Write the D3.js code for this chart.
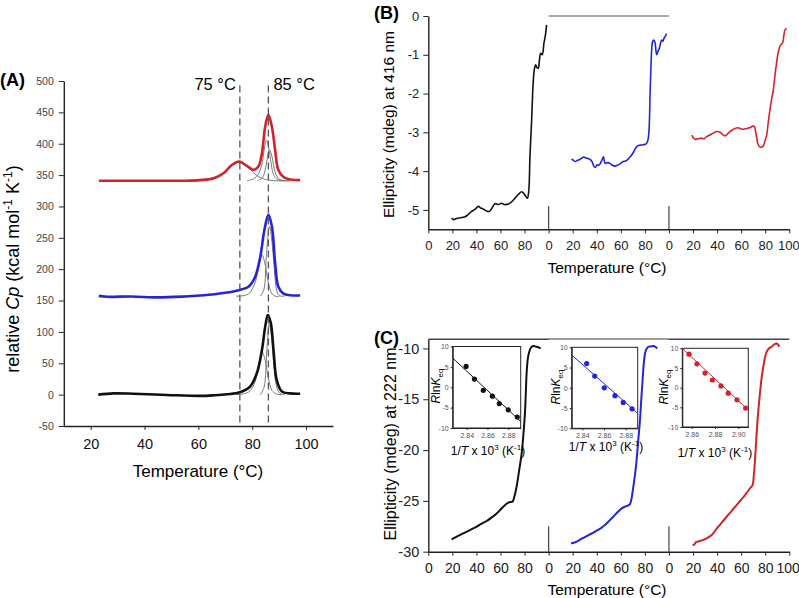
<!DOCTYPE html>
<html><head><meta charset="utf-8">
<script src="https://cdn.jsdelivr.net/npm/d3@7"></script>
<style>
html,body{margin:0;padding:0;background:#fff;}
svg{display:block;font-family:"Liberation Sans",Arial,sans-serif;}
</style></head>
<body>
<svg id="fig" width="799" height="598"></svg>
<script>
// ---------- DATA ----------
// Panel A: DSC traces (Temperature °C, relative Cp)
const dscXTicks = [20, 40, 60, 80, 100];
const dscYTicks = [-50, 0, 50, 100, 150, 200, 250, 300, 350, 400, 450, 500];
const dscMarkers = [75.4, 86.0];
const dscMarkerLabels = ["75 °C", "85 °C"];
const dscRed = [[23,341],[40,341],[55,341],[60.6,342],[65.6,345],[69.3,353],[72.4,366],[75.2,371.6],[78,364.7],[80.4,358.4],[82.3,363.7],[83.6,385],[84.8,427],[86,446],[87.3,427],[88.5,390],[89.7,358],[91.6,347],[94.1,343],[97.8,342]];
const dscRedC1 = [[55,341],[62,341.5],[66,344],[69.3,352],[72.4,365],[75.2,370.5],[78,364],[80.4,354],[82.5,347],[85,343],[88,341],[92,341]];
const dscRedC2 = [[78,341],[80.5,344],[82.3,352],[83.6,368],[84.6,395],[85.2,406],[85.9,398],[86.8,375],[87.8,352],[89,344],[91,341],[94,341]];
const dscRedC3 = [[82,341],[83.8,346],[85,362],[85.8,382],[86.4,390],[87.2,382],[88.2,360],[89.3,347],[91,342],[94,341]];
const dscBlue = [[23,157.4],[26,156],[35,156.5],[45,155],[55,156.5],[60.6,158],[66,160],[70.6,162.7],[75.4,167],[78.6,172],[81.1,188],[83,220],[84.5,262],[86,286.6],[87.3,268],[88.5,210],[89.7,172],[91.6,161],[94,158.5],[97.8,158]];
const dscBlueC1 = [[74,157],[77,158],[79,162],[81,178],[82.5,205],[83.6,223],[84.8,207],[86,178],[87.3,161],[88.5,157],[90,156.5]];
const dscBlueC2 = [[83,157],[84.3,167],[85.3,225],[86.4,268],[87.3,245],[88.2,200],[89,168],[90,158],[92,157]];
const dscBlack = [[22.8,0],[28.4,2],[35.8,1.5],[48.3,-0.5],[60.6,-2],[66,-1],[70.6,0.6],[75.4,3.8],[79.2,12.8],[81.7,34],[83.6,71],[84.8,108],[85.8,127],[86.9,114],[87.9,71],[89.1,23],[91,5],[94,2],[97.8,1.5]];
const dscBlackC1 = [[74,0],[77,1.5],[79.2,6],[81,20],[82.5,48],[83.6,68.6],[84.8,55],[86,26],[87.3,7],[89,1],[91,0]];
const dscBlackC2 = [[83,0],[84.4,12],[85.4,70],[86.3,112],[87.2,92],[88,48],[89,14],[90.2,2],[92,0]];

// Panels B and C: three side-by-side segments, each 0-100 °C
const segXTicks = [0,20,40,60,80,100,120,140,160,180,200,220,240,260,280,300];
const segOffsets = [0, 100, 200];
const cd416Ticks = [0, -1, -2, -3, -4, -5];
const cd222Ticks = [-10, -15, -20, -25, -30];
const cd416Black = [[19.4,-5.21],[21,-5.25],[23.5,-5.22],[27,-5.2],[30,-5.18],[32,-5.15],[36,-5.04],[39,-4.98],[41.6,-4.91],[43.5,-4.95],[45.7,-4.98],[48,-5.02],[50.7,-5.04],[53,-4.95],[55.4,-4.84],[58,-4.86],[61,-4.83],[63,-4.86],[66.5,-4.85],[69,-4.8],[71.2,-4.73],[74,-4.63],[77.6,-4.53],[80,-4.6],[82.3,-4.70],[83.5,-4.5],[84.5,-3.6],[85.9,-2.68],[86.7,-2.0],[87.3,-1.65],[88,-1.4],[89.2,-1.26],[90.3,-1.33],[91.4,-1.35],[92.3,-1.15],[93.4,-0.96],[94.7,-1.0],[96.1,-0.7],[97.3,-0.5],[98.3,-0.23]];
const cd416Blue = [[19,-3.69],[20.5,-3.72],[22,-3.75],[24,-3.72],[26,-3.7],[29,-3.64],[31,-3.66],[34,-3.69],[36,-3.75],[37.7,-3.88],[39,-3.9],[40,-3.84],[41.5,-3.85],[43,-3.80],[44.5,-3.7],[45.5,-3.63],[47,-3.80],[49,-3.78],[51,-3.80],[53,-3.85],[55,-3.87],[57,-3.85],[59,-3.82],[62,-3.75],[64,-3.74],[66,-3.69],[68,-3.62],[70,-3.54],[72,-3.42],[74,-3.35],[76,-3.33],[78.7,-3.32],[81,-3.3],[82.5,-3.2],[83.5,-2.9],[84.3,-2.0],[85,-1.31],[85.7,-0.85],[86.4,-0.66],[87.4,-0.62],[88.4,-0.68],[89.2,-0.9],[89.8,-1.0],[90.8,-0.92],[92,-0.83],[93,-0.7],[94,-0.62],[95,-0.65],[95.8,-0.58],[97,-0.52],[98,-0.45]];
const cd416Red = [[19,-3.07],[20.5,-3.15],[21.6,-3.18],[24,-3.17],[27,-3.15],[29,-3.17],[31.3,-3.11],[34,-3.07],[37,-3.02],[39.6,-2.98],[42.4,-3.0],[44.5,-3.05],[46.5,-3.09],[48,-3.06],[50,-3.0],[52.5,-2.94],[54.8,-2.9],[57,-2.88],[59,-2.9],[62,-2.92],[64.5,-2.9],[67,-2.88],[70,-2.84],[71.2,-2.86],[72,-2.98],[73,-3.15],[73.7,-3.28],[75.6,-3.38],[77,-3.38],[78.4,-3.35],[80,-3.2],[81.2,-3.07],[82.5,-2.75],[83.9,-2.42],[85.3,-2.15],[86.7,-1.91],[88,-1.55],[89,-1.31],[90,-1.08],[90.9,-0.92],[92,-0.8],[92.8,-0.75],[94.5,-0.69],[95.5,-0.5],[96.4,-0.36],[97.8,-0.32]];
const cd222Black = [[19.4,-28.79],[24,-28.5],[29,-28.2],[35,-27.85],[40.2,-27.54],[44,-27.27],[48.5,-26.98],[52.5,-26.65],[56.8,-26.23],[60,-25.85],[62.3,-25.57],[66.5,-25.18],[68.5,-25.1],[70,-25.08],[71.5,-24.6],[73.4,-23.6],[75.5,-22.0],[77.6,-20.33],[79,-18.5],[80.3,-16.39],[81,-14.5],[81.7,-12.46],[82.7,-11.0],[83.9,-10.33],[85.5,-9.9],[87.3,-9.77],[90,-9.84],[93.4,-10]];
const cd222Blue = [[18.6,-29.18],[20,-29.15],[23.3,-29.0],[27,-28.75],[31.6,-28.46],[36,-28.2],[39.9,-27.93],[43.5,-27.68],[46.8,-27.38],[50,-27.0],[53.7,-26.56],[57,-26.15],[60.7,-25.74],[62.8,-25.6],[64.8,-25.51],[67.6,-25.31],[69,-24.7],[70.4,-23.6],[71.8,-22.4],[73.1,-20.98],[74.5,-19.0],[75.9,-17.05],[77,-15.0],[78.1,-13.11],[79,-11.6],[80.1,-10.49],[81.3,-10.05],[82.8,-9.84],[85,-9.8],[87,-9.77],[88.8,-9.85],[90.3,-10]];
const cd222Red = [[19.7,-29.34],[21,-29.3],[22.5,-29.05],[24.4,-29.0],[27,-28.9],[31.3,-28.69],[35.5,-28.36],[38,-28.0],[41,-27.54],[44.5,-27.05],[47.9,-26.56],[52,-26.0],[56.2,-25.41],[59.5,-24.95],[63.2,-24.43],[65,-24.15],[67.3,-23.77],[69.5,-23.44],[70.5,-22.5],[71.5,-20.98],[72.5,-19.0],[73.4,-17.38],[74.5,-15.8],[75.6,-14.43],[77,-12.9],[78.4,-11.8],[79.8,-10.9],[81.2,-10.33],[83,-10.0],[85.3,-9.84],[87.5,-9.6],[89.5,-9.51],[90.5,-9.6],[91.7,-9.84]];

// Insets: van't Hoff plots (1/T x 10^3, R ln Keq)
const inset1X = [2.8394, 2.8474, 2.856, 2.8647, 2.8714, 2.88, 2.8887];
const inset1Y = [5.1, 2.0, -0.75, -2.2, -4.0, -5.55, -7.3];
const inset1Fit = [[2.8265, 7.15], [2.892, -8.4]];
const inset1Ticks = [2.84, 2.86, 2.88];
const inset2X = [2.844, 2.8514, 2.8602, 2.8701, 2.8777, 2.8858];
const inset2Y = [6.0, 2.9, 0.0, -1.95, -3.6, -5.2];
const inset2Fit = [[2.8302, 8.1], [2.891, -6.3]];
const inset2Ticks = [2.84, 2.86, 2.88];
const inset3X = [2.8577, 2.8645, 2.8714, 2.8777, 2.8851, 2.8914, 2.8989, 2.9063];
const inset3Y = [8.5, 6.05, 3.7, 1.95, 0.45, -1.4, -3.1, -5.2];
const inset3Fit = [[2.8519, 10], [2.9086, -5.7]];
const inset3Ticks = [2.86, 2.88, 2.90];
const insetYTicks = [10, 5, 0, -5, -10];

// ---------- DRAW ----------
const RED = "#d2222a", BLUE = "#2424dc", BLACK = "#111", GRAY = "#7a7a7a";
const svg = d3.select("#fig");
const plain = d => String(d);

function styleAxis(g, size, color) {
  g.selectAll("path.domain").attr("stroke", "#222").attr("stroke-width", 1.4);
  g.selectAll(".tick line").attr("stroke", "#222").attr("stroke-width", 1);
  g.selectAll(".tick text").attr("font-size", size).attr("fill", color)
    .attr("font-family", "'Liberation Sans', Arial, sans-serif");
}

// ----- Panel A -----
const ax = d3.scaleLinear().domain([10, 110]).range([63.8, 333]);
const ay = d3.scaleLinear().domain([-50, 500]).range([426, 81]);
const gA = svg.append("g");
gA.append("g").attr("transform", `translate(0,${ay(-50)})`)
  .call(d3.axisBottom(ax).tickValues(dscXTicks).tickFormat(plain).tickSize(4).tickPadding(9).tickSizeOuter(0))
  .call(g => styleAxis(g, 14.5, "#111"));
gA.append("g").attr("transform", `translate(${ax(10)},0)`)
  .call(d3.axisLeft(ay).tickValues(dscYTicks).tickFormat(plain).tickSize(5).tickPadding(5).tickSizeOuter(0))
  .call(g => styleAxis(g, 10.5, "#444"));

const lineA = d3.line().x(d => ax(d[0])).y(d => ay(d[1])).curve(d3.curveCatmullRom.alpha(0.5));
[dscRedC1, dscRedC2, dscRedC3, dscBlueC1, dscBlueC2, dscBlackC1, dscBlackC2].forEach(c =>
  gA.append("path").datum(c).attr("d", lineA).attr("fill", "none").attr("stroke", GRAY).attr("stroke-width", 1));
[[dscRed, RED], [dscBlue, BLUE], [dscBlack, BLACK]].forEach(([c, col]) =>
  gA.append("path").datum(c).attr("d", lineA).attr("fill", "none").attr("stroke", col).attr("stroke-width", 2.6));
dscMarkers.forEach(m => gA.append("line").attr("x1", ax(m)).attr("x2", ax(m))
  .attr("y1", ay(493)).attr("y2", ay(-50)).attr("stroke", "#555").attr("stroke-width", 1.3).attr("stroke-dasharray", "7,4"));
gA.append("text").attr("x", ax(dscMarkers[0]) - 4).attr("y", 90).attr("text-anchor", "end")
  .attr("font-size", 16.5).text(dscMarkerLabels[0]);
gA.append("text").attr("x", ax(dscMarkers[1]) + 5).attr("y", 90).attr("text-anchor", "start")
  .attr("font-size", 16.5).text(dscMarkerLabels[1]);
gA.append("text").attr("x", 198).attr("y", 477).attr("text-anchor", "middle").attr("font-size", 17).text("Temperature (°C)");
const yA = gA.append("text").attr("transform", "translate(19,269) rotate(-90)").attr("text-anchor", "middle").attr("font-size", 18);
yA.append("tspan").text("relative ");
yA.append("tspan").attr("font-style", "italic").text("Cp");
yA.append("tspan").text(" (kcal mol");
yA.append("tspan").attr("font-size", 12).attr("dy", -7).text("-1");
yA.append("tspan").attr("dy", 7).text(" K");
yA.append("tspan").attr("font-size", 12).attr("dy", -7).text("-1");
yA.append("tspan").attr("dy", 7).text(")");
gA.append("text").attr("x", 0).attr("y", 86).attr("font-size", 18).attr("font-weight", "bold").text("(A)");

// ----- Panels B & C shared x -----
const sx = d3.scaleLinear().domain([0, 300]).range([428.3, 789.3]);
const segLabel = d => (d === 300 ? "100" : String(d % 100));

function drawSegPanel(y, ticks, yFont, xFont, series, lineW, sepTop, tickPad) {
  const g = svg.append("g");
  const y0 = y.range()[0];
  g.append("g").attr("transform", `translate(0,${y0})`)
    .call(d3.axisBottom(sx).tickValues(segXTicks).tickFormat(segLabel).tickSize(4).tickPadding(tickPad).tickSizeOuter(0))
    .call(a => styleAxis(a, xFont, "#222"))
    .call(a => a.selectAll(".tick text").filter(d => d === 300).attr("text-anchor", "end").attr("dx", 10));
  g.append("g").attr("transform", `translate(${sx(0)},0)`)
    .call(d3.axisLeft(y).tickValues(ticks).tickFormat(plain).tickSize(5).tickPadding(4).tickSizeOuter(0))
    .call(a => styleAxis(a, yFont, "#222"));
  [100, 200].forEach(s => g.append("line").attr("x1", sx(s)).attr("x2", sx(s))
    .attr("y1", y0).attr("y2", y(sepTop)).attr("stroke", "#444").attr("stroke-width", 1.2));
  const ln = d3.line().x(d => sx(d[0])).y(d => y(d[1])).curve(d3.curveCatmullRom.alpha(0.5));
  series.forEach(([data, col], i) =>
    g.append("path").datum(data.map(d => [d[0] + segOffsets[i], d[1]])).attr("d", ln)
      .attr("fill", "none").attr("stroke", col).attr("stroke-width", lineW));
  return g;
}

// Panel B
const by = d3.scaleLinear().domain([-5.5, 0]).range([229.3, 16]);
const gB = drawSegPanel(by, cd416Ticks, 13, 13, [[cd416Black, BLACK], [cd416Blue, BLUE], [cd416Red, RED]], 1.6, -4.9, 7);
gB.append("line").attr("x1", sx(100)).attr("x2", sx(200)).attr("y1", by(0)).attr("y2", by(0)).attr("stroke", "#555").attr("stroke-width", 1);
gB.append("text").attr("x", 607).attr("y", 273).attr("text-anchor", "middle").attr("font-size", 15.5).text("Temperature (°C)");
gB.append("text").attr("transform", "translate(394,124.5) rotate(-90)").attr("text-anchor", "middle").attr("font-size", 15.5).text("Ellipticity (mdeg) at 416 nm");
gB.append("text").attr("x", 374).attr("y", 19).attr("font-size", 18).attr("font-weight", "bold").text("(B)");

// Panel C
const cy = d3.scaleLinear().domain([-30, -9.1]).range([551.7, 339.3]);
const gC = drawSegPanel(cy, cd222Ticks, 14.5, 14, [[cd222Black, BLACK], [cd222Blue, BLUE], [cd222Red, RED]], 2, -27.5, 7);
gC.append("line").attr("x1", sx(0)).attr("x2", sx(300)).attr("y1", cy(-9.1)).attr("y2", cy(-9.1)).attr("stroke", "#444").attr("stroke-width", 1.6);
gC.append("line").attr("x1", sx(100)).attr("x2", sx(200)).attr("y1", cy(-9.1)).attr("y2", cy(-9.1)).attr("stroke", "#999").attr("stroke-width", 1.6);
gC.append("text").attr("x", 607).attr("y", 595).attr("text-anchor", "middle").attr("font-size", 15.5).text("Temperature (°C)");
gC.append("text").attr("transform", "translate(396,444) rotate(-90)").attr("text-anchor", "middle").attr("font-size", 16).text("Ellipticity (mdeg) at 222 nm");
gC.append("text").attr("x", 374).attr("y", 344).attr("font-size", 18).attr("font-weight", "bold").text("(C)");

// Insets
function drawInset(box, xDom, xs, ys, fit, xticks, col, labelPos, rlnPos) {
  const x = d3.scaleLinear().domain(xDom).range([box[0], box[1]]);
  const y = d3.scaleLinear().domain([-10, 10]).range([box[3], box[2]]);
  const g = svg.append("g");
  g.append("rect").attr("x", box[0]).attr("y", box[2]).attr("width", box[1] - box[0]).attr("height", box[3] - box[2])
    .attr("fill", "none").attr("stroke", "#222").attr("stroke-width", 1);
  g.append("g").attr("transform", `translate(0,${box[3]})`)
    .call(d3.axisBottom(x).tickValues(xticks).tickFormat(d3.format(".2f")).tickSize(2).tickPadding(3).tickSizeOuter(0))
    .call(a => { styleAxis(a, 7, "#555"); a.select("path.domain").attr("stroke-width", 1); });
  g.append("g").attr("transform", `translate(${box[0]},0)`)
    .call(d3.axisLeft(y).tickValues(insetYTicks).tickFormat(plain).tickSize(2).tickPadding(2).tickSizeOuter(0))
    .call(a => { styleAxis(a, 7, "#555"); a.select("path.domain").attr("stroke-width", 1); });
  g.append("line").attr("x1", x(fit[0][0])).attr("y1", y(fit[0][1])).attr("x2", x(fit[1][0])).attr("y2", y(fit[1][1]))
    .attr("stroke", col).attr("stroke-width", 1);
  g.selectAll("circle.pt").data(xs.map((v, i) => [v, ys[i]])).join("circle").attr("class", "pt")
    .attr("cx", d => x(d[0])).attr("cy", d => y(d[1])).attr("r", 2.6).attr("fill", col);
  const t = g.append("text").attr("x", labelPos[0]).attr("y", labelPos[1]).attr("text-anchor", "middle").attr("font-size", 12);
  t.append("tspan").text("1/");
  t.append("tspan").attr("font-style", "italic").text("T");
  t.append("tspan").text(" x 10");
  t.append("tspan").attr("font-size", 8).attr("dy", -5).text("3");
  t.append("tspan").attr("dy", 5).text(" (K");
  t.append("tspan").attr("font-size", 8).attr("dy", -5).text("-1");
  t.append("tspan").attr("dy", 5).text(")");
  const r = g.append("text").attr("transform", `translate(${rlnPos[0]},${rlnPos[1]}) rotate(-90)`).attr("text-anchor", "middle").attr("font-size", 12);
  r.append("tspan").attr("font-style", "italic").text("R");
  r.append("tspan").text("ln");
  r.append("tspan").attr("font-style", "italic").text("K");
  r.append("tspan").attr("font-size", 8).attr("dy", 3).text("eq");
}
drawInset([452.7, 520.7, 346.5, 428], [2.8265, 2.892], inset1X, inset1Y, inset1Fit, inset1Ticks, BLACK, [488, 455], [440, 386]);
drawInset([571.7, 637.7, 347.3, 428.3], [2.8302, 2.891], inset2X, inset2Y, inset2Fit, inset2Ticks, BLUE, [606, 451], [560, 387]);
drawInset([682.3, 748.3, 348.3, 427], [2.8519, 2.9086], inset3X, inset3Y, inset3Fit, inset3Ticks, RED, [715, 457], [668, 387]);
</script>
</body></html>
